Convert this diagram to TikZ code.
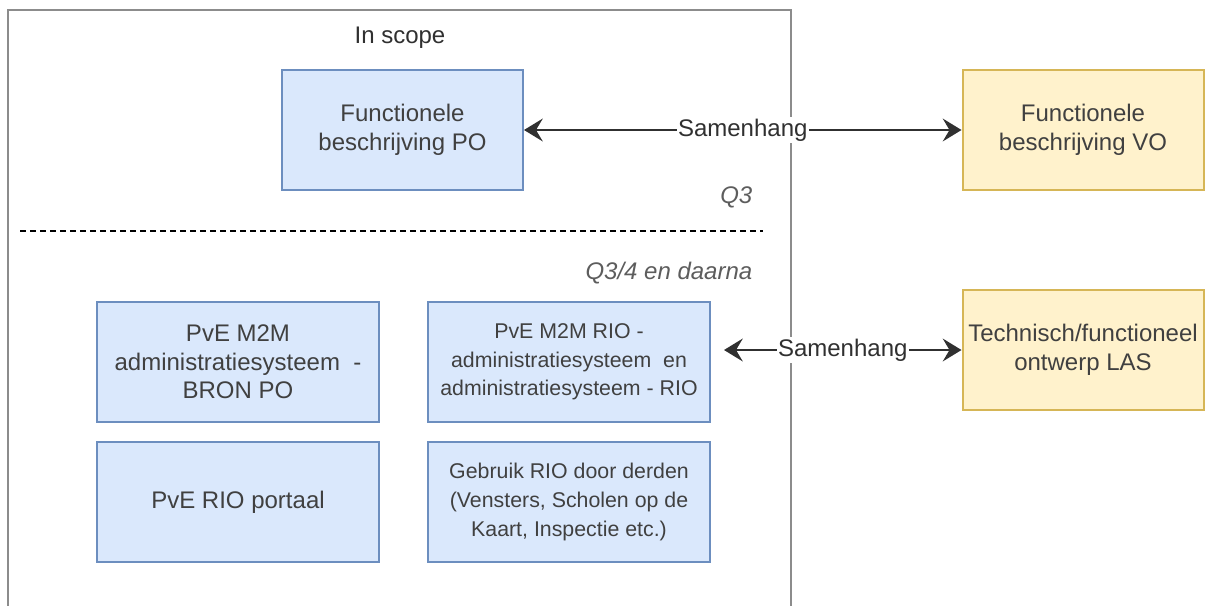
\documentclass[tikz,border=0pt]{standalone}
\usepackage{fontspec}
\setmainfont{Liberation Sans}
\usetikzlibrary{arrows.meta}
\definecolor{bluefill}{HTML}{DAE8FC}
\definecolor{bluedraw}{HTML}{6C8EBF}
\definecolor{yelfill}{HTML}{FFF2CC}
\definecolor{yeldraw}{HTML}{D6B656}
\definecolor{txt}{HTML}{404040}
\definecolor{framec}{HTML}{8C8C8C}
\definecolor{conncol}{HTML}{303030}
\begin{document}
\begin{tikzpicture}[x=0.75pt,y=-0.75pt,
  bigfont/.style={font=\fontsize{18}{21.4}\selectfont},
  smallfont/.style={font=\fontsize{16}{21.4}\selectfont},
  boxbase/.style={line width=1.5pt, text=txt, align=center, minimum height=90pt, inner sep=0pt},
  bluebox/.style={boxbase, draw=bluedraw, fill=bluefill},
  yelbox/.style={boxbase, draw=yeldraw, fill=yelfill, minimum width=180.75pt, bigfont},
  narrowbox/.style={bluebox, minimum width=180.75pt, bigfont},
  widebox/.style={bluebox, minimum width=211.5pt},
  conn/.style={draw=conncol, line width=2pt, {Stealth[length=14pt,width=17pt,inset=5pt]}-{Stealth[length=14pt,width=17pt,inset=5pt]}},
  lbl/.style={fill=white, inner sep=1pt, text=conncol, bigfont},
  plain/.style={text=conncol, bigfont},
  phase/.style={text=txt!85, font=\fontsize{18}{21.4}\selectfont\itshape, anchor=east}
]
\useasboundingbox (0,0) rectangle (1212,606);
\fill[white] (0,0) rectangle (1212,606);

% scope frame
\draw[framec, line width=2.1pt] (8,606) -- (8,10) -- (791,10) -- (791,606);

\node[plain] (inscope) at (400,38) {In scope};
\node[phase] (q3) at (757,197) {Q3};
\draw[black, line width=1.3pt, dash pattern=on 4.5pt off 3pt] (20,231) -- (763,231);
\node[phase] (q34) at (757,273) {Q3/4 en daarna};

% boxes
\node[narrowbox] (po) at (402.5,130) {Functionele\\beschrijving PO};
\node[yelbox] (vo) at (1083,130) {Functionele\\beschrijving VO};
\node[widebox, bigfont] (a) at (238,362) {PvE M2M\\administratiesysteem\ \ -\\BRON PO};
\node[widebox, smallfont] (b) at (569,362) {PvE M2M RIO -\\administratiesysteem\ \ en\\administratiesysteem - RIO};
\node[widebox, bigfont] (c) at (238,502) {PvE RIO portaal};
\node[widebox, smallfont] (d) at (569,502) {Gebruik RIO door derden\\(Vensters, Scholen op de\\Kaart, Inspectie etc.)};
\node[yelbox] (las) at (1083,350) {Technisch/functioneel\\ontwerp LAS};

% connectors
\draw[conn] (po) -- node[lbl] {Samenhang} (vo);
\path (b.east |- las.west) ++(13,0) coordinate (bout);
\draw[conn] (bout) -- node[lbl] {Samenhang} (las.west);
\end{tikzpicture}
\end{document}
